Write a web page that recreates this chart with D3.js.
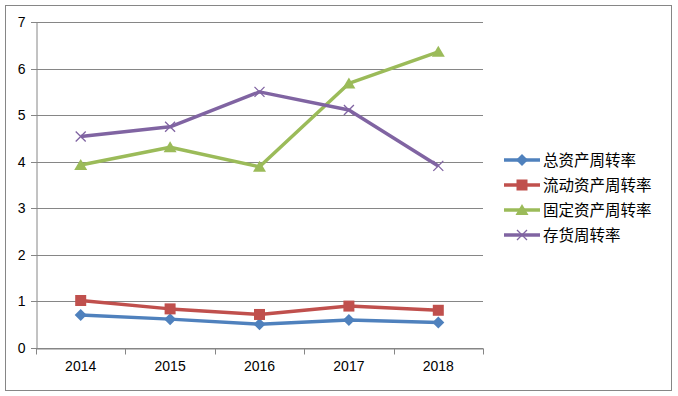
<!DOCTYPE html>
<html>
<head>
<meta charset="utf-8">
<script src="https://cdn.jsdelivr.net/npm/d3@7"></script>
<style>
  body { margin: 0; background: #fff; }
  svg text { font-family: "Liberation Sans", "Noto Sans CJK SC", sans-serif; }
</style>
</head>
<body>
<svg width="678" height="396"></svg>
<script>
// data
var years = ["2014", "2015", "2016", "2017", "2018"];
var seriesNames = ["总资产周转率", "流动资产周转率", "固定资产周转率", "存货周转率"];
var totalAsset = [0.71, 0.62, 0.51, 0.60, 0.55];
var currentAsset = [1.02, 0.84, 0.72, 0.90, 0.81];
var fixedAsset = [3.93, 4.31, 3.89, 5.68, 6.36];
var inventory = [4.54, 4.75, 5.50, 5.11, 3.91];
var yTicks = [0, 1, 2, 3, 4, 5, 6, 7];

var series = [
    {name: seriesNames[0], values: totalAsset, color: "#4F81BD", marker: "diamond"},
    {name: seriesNames[1], values: currentAsset, color: "#C0504D", marker: "square"},
    {name: seriesNames[2], values: fixedAsset, color: "#9BBB59", marker: "triangle"},
    {name: seriesNames[3], values: inventory, color: "#8064A2", marker: "cross"}
];

var svg = d3.select("svg"),
    margin = {top: 22, right: 195, bottom: 48, left: 36},
    width = +svg.attr("width") - margin.left - margin.right,
    height = +svg.attr("height") - margin.top - margin.bottom;

// outer chart border
svg.append("rect")
    .attr("x", 5.5).attr("y", 5.5)
    .attr("width", 666).attr("height", 385)
    .attr("fill", "none")
    .attr("stroke", "#868686");

var g = svg.append("g").attr("transform", "translate(" + margin.left + "," + margin.top + ")");

var x = d3.scaleBand().domain(years).range([0, width]);
var y = d3.scaleLinear().domain([0, 7]).range([height, 0]);

// gridlines
g.append("g")
    .selectAll("line")
    .data(yTicks)
    .enter().append("line")
    .attr("x1", -5).attr("x2", width)
    .attr("y1", function(d) { return Math.round(y(d)) + 0.5; })
    .attr("y2", function(d) { return Math.round(y(d)) + 0.5; })
    .attr("stroke", "#868686");

// y axis
var yAxis = g.append("g")
    .attr("transform", "translate(0.5,0)")
    .call(d3.axisLeft(y).tickValues(yTicks).tickSize(0).tickPadding(11).tickFormat(d3.format("d")));
yAxis.select(".domain").attr("stroke", "#868686");
yAxis.selectAll("text").attr("font-size", 14).attr("fill", "#000");

// x axis
var xAxis = g.append("g")
    .attr("transform", "translate(0," + (Math.round(height) + 0.5) + ")")
    .call(d3.axisBottom(x).tickSize(0).tickPadding(13));
xAxis.select(".domain").attr("stroke", "#868686");
xAxis.selectAll("text").attr("font-size", 14).attr("fill", "#000");
xAxis.selectAll(".sep")
    .data(d3.range(years.length + 1))
    .enter().append("line")
    .attr("class", "sep")
    .attr("x1", function(i) { return Math.round(i * x.step()) + 0.5; })
    .attr("x2", function(i) { return Math.round(i * x.step()) + 0.5; })
    .attr("y1", 0).attr("y2", 6)
    .attr("stroke", "#868686");

var cx = function(i) { return x(years[i]) + x.bandwidth() / 2; };

var line = d3.line()
    .x(function(d, i) { return cx(i); })
    .y(function(d) { return y(d); });

function drawMarker(sel, type, color) {
    if (type === "diamond") {
        sel.append("path").attr("d", "M0,-6L6,0L0,6L-6,0Z").attr("fill", color);
    } else if (type === "square") {
        sel.append("rect").attr("x", -5.5).attr("y", -5.5).attr("width", 11).attr("height", 11).attr("fill", color);
    } else if (type === "triangle") {
        sel.append("path").attr("d", "M0,-6L6.5,5L-6.5,5Z").attr("fill", color);
    } else {
        sel.append("path").attr("d", "M-5,-5L5,5M-5,5L5,-5").attr("stroke", color).attr("stroke-width", 1.3).attr("fill", "none");
    }
}

series.forEach(function(s) {
    g.append("path")
        .datum(s.values)
        .attr("fill", "none")
        .attr("stroke", s.color)
        .attr("stroke-width", 3.5)
        .attr("stroke-linejoin", "round")
        .attr("d", line);
    s.values.forEach(function(v, i) {
        var m = g.append("g").attr("transform", "translate(" + cx(i) + "," + y(v) + ")");
        drawMarker(m, s.marker, s.color);
    });
});

// legend
var legend = svg.append("g").attr("transform", "translate(504,160)");
series.forEach(function(s, i) {
    var row = legend.append("g").attr("transform", "translate(0," + (i * 25) + ")");
    row.append("line")
        .attr("x1", 0).attr("x2", 36)
        .attr("stroke", s.color)
        .attr("stroke-width", 3.5);
    var m = row.append("g").attr("transform", "translate(18,0)");
    drawMarker(m, s.marker, s.color);
    row.append("text")
        .attr("x", 39).attr("y", 0)
        .attr("dy", "0.38em")
        .attr("font-size", 15.5)
        .attr("fill", "#000")
        .text(s.name);
});
</script>
</body>
</html>
